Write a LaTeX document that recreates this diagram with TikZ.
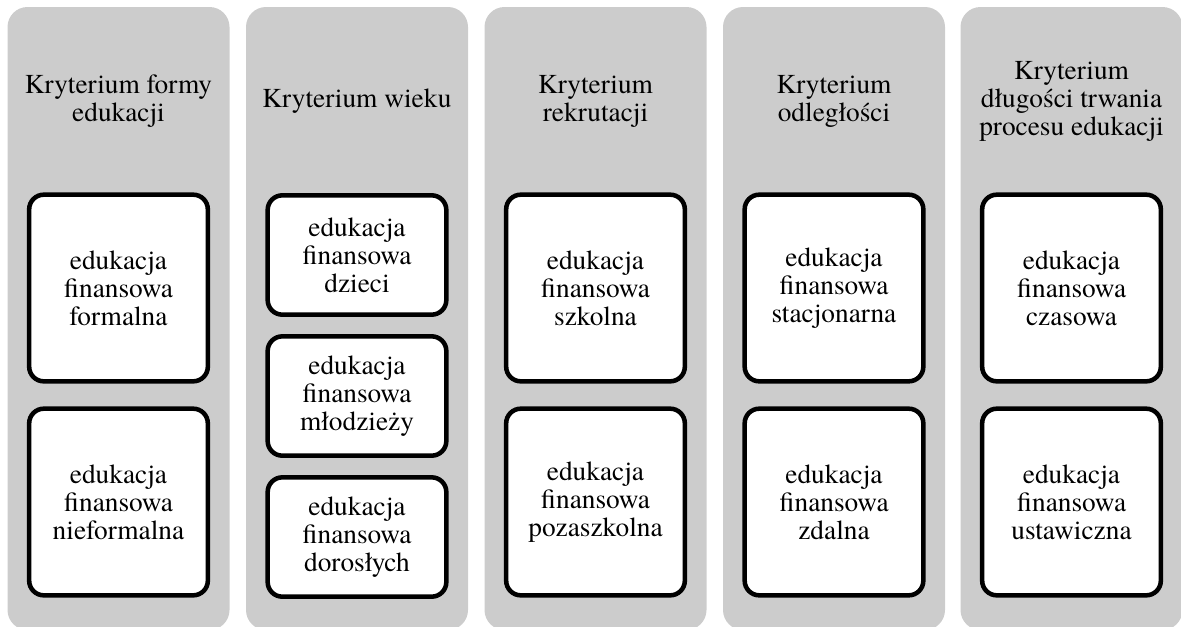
\documentclass[tikz,border=0pt]{standalone}
\usepackage{xcolor}
\usepackage{tikz}
\usepackage{fontspec}
\setmainfont{texgyretermes-regular.otf}
\definecolor{panel}{HTML}{CCCCCC}

\begin{document}
\begin{tikzpicture}[
 x=0.75pt,y=-0.75pt,
 every node/.style={align=center,font=\fontsize{20.5}{21}\selectfont},
 kpanel/.style={fill=panel,rounded corners=15pt,minimum width=166.5pt,
 minimum height=467.25pt,inner sep=0pt},
 khead/.style={inner sep=0pt},
 kbox/.style={draw=black,fill=white,line width=3.4pt,rounded corners=11pt,
 minimum width=134pt,inner sep=2pt},
 ktwo/.style={kbox,minimum height=140pt},
 kthree/.style={kbox,minimum height=89.5pt}]
\useasboundingbox (0,0) rectangle (1181,626);
\node[kpanel] (forma) at (118.5,318.5) {};
\node[kpanel] (wiek) at (357,318.5) {};
\node[kpanel] (rekrut) at (595.5,318.5) {};
\node[kpanel] (odleg) at (834,318.5) {};
\node[kpanel] (czas) at (1071.5,318.5) {};
\node[khead] (formahead) at (118.5,101) {Kryterium formy\\edukacji};
\node[khead] (wiekhead) at (357,101) {Kryterium wieku};
\node[khead] (rekruthead) at (595.5,101) {Kryterium\\rekrutacji};
\node[khead] (odleghead) at (834,101) {Kryterium\\odległości};
\node[khead] (czashead) at (1071.5,101) {Kryterium\\długości trwania\\procesu edukacji};
\node[ktwo] (formal) at (118.5,288) {edukacja\\finansowa\\formalna};
\node[ktwo] (nieformal) at (118.5,502) {edukacja\\finansowa\\nieformalna};
\node[kthree] (dzieci) at (357,255) {edukacja\\finansowa\\dzieci};
\node[kthree] (mlodziez) at (357,396) {edukacja\\finansowa\\młodzieży};
\node[kthree] (dorosli) at (357,537) {edukacja\\finansowa\\dorosłych};
\node[ktwo] (szkolna) at (595.5,288) {edukacja\\finansowa\\szkolna};
\node[ktwo] (pozaszk) at (595.5,502) {edukacja\\finansowa\\pozaszkolna};
\node[ktwo] (stacjo) at (834,288) {edukacja\\finansowa\\stacjonarna};
\node[ktwo] (zdalna) at (834,502) {edukacja\\finansowa\\zdalna};
\node[ktwo] (czasowa) at (1071.5,288) {edukacja\\finansowa\\czasowa};
\node[ktwo] (ustaw) at (1071.5,502) {edukacja\\finansowa\\ustawiczna};
\end{tikzpicture}
\end{document}
